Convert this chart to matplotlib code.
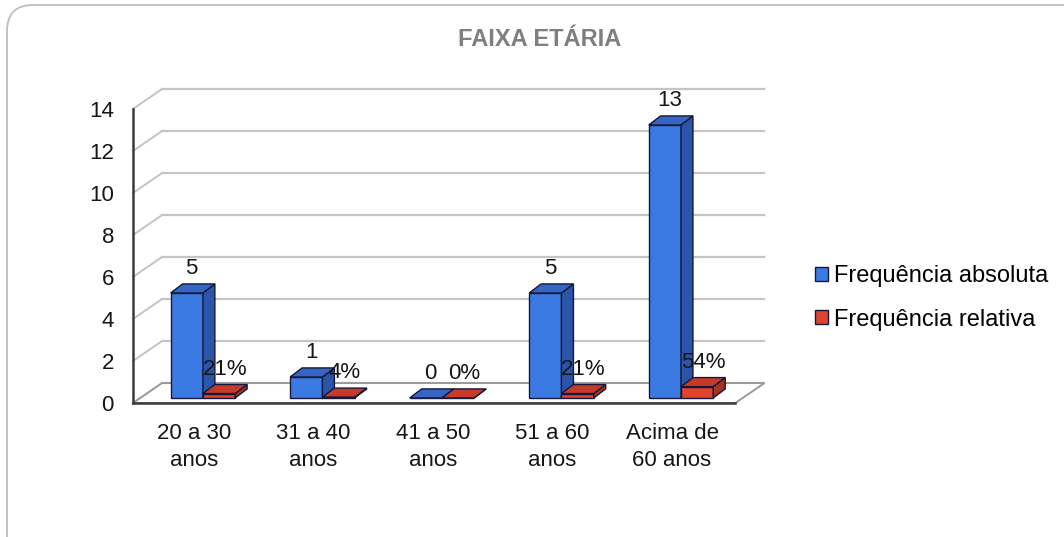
import numpy as np
import matplotlib.pyplot as plt
from matplotlib.patches import Polygon, Patch, FancyBboxPatch

plt.rcParams['font.family'] = ['Liberation Sans', 'DejaVu Sans']

# data
categorias = ["20 a 30\nanos", "31 a 40\nanos", "41 a 50\nanos", "51 a 60\nanos", "Acima de\n60 anos"]
freq_abs = [5, 1, 0, 5, 13]
freq_rel = [0.21, 0.04, 0.00, 0.21, 0.54]
rotulos_rel = ["21%", "4%", "0%", "21%", "54%"]
yticks = list(range(0, 15, 2))

# pseudo-3d geometry (data units)
base = 0.24          # bars sit a little behind the front edge
w = 0.27             # bar width
ddx, ddy = 0.10, 0.43   # bar depth
wx, wy = 0.243, 0.95    # wall depth
x_front = -0.51
x_end = 4.53

azul = ('#3b7ae2', '#2a55a8', '#3566c4')
verm = ('#e2432c', '#a8321f', '#c53b28')
borda = '#15183a'
txt = '#161616'

fig = plt.figure(figsize=(10.64, 5.37), dpi=100)

# rounded outer frame
bg = fig.add_axes([0, 0, 1, 1], zorder=-1)
bg.set_xlim(0, 1064)
bg.set_ylim(537, 0)
bg.axis('off')
bg.add_patch(FancyBboxPatch((7, 5), 1100, 600, boxstyle='round,pad=0,rounding_size=26',
                            facecolor='white', edgecolor='#bdbdbd', lw=1.3))

ax = fig.add_axes([0.1149, 0.2339, 0.6178, 0.6257])
ax.set_xlim(-0.6, 4.9)
ax.set_ylim(-0.4, 15.6)
ax.patch.set_alpha(0)
for s in ax.spines.values():
    s.set_visible(False)

# back wall gridlines + left wall diagonals
for v in yticks:
    ax.plot([x_front + wx, x_end + wx], [v + wy, v + wy], color='#c4c4c4', lw=1.6, zorder=1)
    ax.plot([x_front, x_front + wx], [v, v + wy], color='#c4c4c4', lw=1.4, zorder=1)

# floor
ax.add_patch(Polygon([(x_front, 0), (x_end, 0), (x_end + wx, wy), (x_front + wx, wy)],
                     closed=True, facecolor='white', edgecolor='#9a9a9a', lw=1.4, zorder=1))
ax.plot([x_front, x_end], [0, 0], color='#3a3a3a', lw=1.8, zorder=2)
ax.plot([x_front, x_front], [0, 14], color='#3a3a3a', lw=1.8, zorder=2)


def barra(x0, h, cores, z):
    front, side, top = cores
    ax.bar(x0, h, w, bottom=base, align='edge', color=front, edgecolor=borda, lw=1.0, zorder=z)
    ax.add_patch(Polygon([(x0 + w, base), (x0 + w + ddx, base + ddy),
                          (x0 + w + ddx, base + h + ddy), (x0 + w, base + h)],
                         closed=True, facecolor=side, edgecolor=borda, lw=1.0, zorder=z))
    ax.add_patch(Polygon([(x0, base + h), (x0 + ddx, base + h + ddy),
                          (x0 + w + ddx, base + h + ddy), (x0 + w, base + h)],
                         closed=True, facecolor=top, edgecolor=borda, lw=1.0, zorder=z))


xs = np.arange(len(categorias))
for i, (a, r) in enumerate(zip(freq_abs, freq_rel)):
    xa = xs[i] - 0.195
    xr = xa + w
    barra(xa, a, azul, 3 + 2 * i)
    barra(xr, r, verm, 4 + 2 * i)
    ax.text(xa + w / 2 + 0.04, base + a + ddy + 0.75, str(a), ha='center', va='center',
            fontsize=16, color=txt, zorder=20)
    ax.text(xr + w / 2 + 0.05, base + r + ddy + 0.72, rotulos_rel[i], ha='center', va='center',
            fontsize=16, color=txt, zorder=20)

ax.set_yticks(yticks)
ax.set_yticklabels([str(v) for v in yticks], fontsize=16, color=txt)
ax.set_xticks(xs)
ax.set_xticklabels(categorias, fontsize=16, color=txt, linespacing=1.4)
ax.tick_params(axis='y', length=0, pad=6)
ax.tick_params(axis='x', length=0, pad=8)

fig.text(0.5075, 1 - 40 / 537, 'FAIXA ETÁRIA', ha='center', va='center',
         fontsize=17, fontweight='bold', color='#7f7f7f')

handles = [Patch(facecolor=azul[0], edgecolor=borda, lw=1.0),
           Patch(facecolor=verm[0], edgecolor=borda, lw=1.0)]
fig.legend(handles, ['Frequência absoluta', 'Frequência relativa'], loc='center left',
           bbox_to_anchor=(815 / 1064, 1 - 298 / 537), frameon=False, fontsize=17,
           handlelength=0.55, handleheight=0.55, handletextpad=0.25, labelspacing=0.9,
           borderpad=0, borderaxespad=0)

fig.savefig('out.png', dpi=100)
